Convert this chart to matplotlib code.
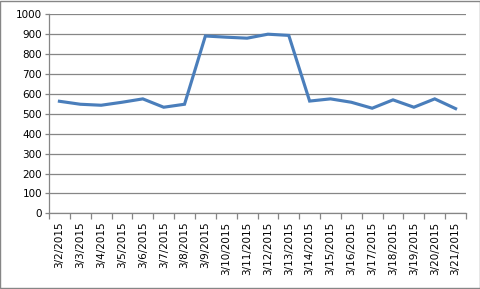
import matplotlib

matplotlib.use("Agg")
import matplotlib.pyplot as plt
from matplotlib.patches import Rectangle

dates = [f"3/{d}/2015" for d in range(2, 22)]
values = [563, 548, 543, 558, 575, 533, 548, 891, 885, 880,
          900, 894, 564, 575, 558, 528, 570, 533, 575, 526]
y_ticks = list(range(0, 1001, 100))

plt.rcParams["font.family"] = ["DejaVu Sans"]

fig = plt.figure(figsize=(4.81, 2.89), dpi=100)
ax = fig.add_axes([49 / 481, 1 - 213.3 / 289, 417 / 481, 199 / 289])

x = list(range(len(values)))
ax.plot(x, values, color="#4A7EBB", linewidth=2.25, solid_joinstyle="miter", zorder=3)

ax.set_xlim(-0.5, len(values) - 0.5)
ax.set_ylim(0, 1000)
ax.set_yticks(y_ticks)
ax.yaxis.grid(True, color="#868686", linewidth=0.9)
ax.set_axisbelow(True)

# tick marks between categories, labels at the centres
ax.set_xticks([i - 0.5 for i in range(len(values) + 1)])
ax.set_xticklabels([])
ax.set_xticks(x, minor=True)
ax.set_xticklabels(dates, minor=True, rotation=90, fontsize=7.5)
ax.tick_params(axis="x", which="major", length=4, color="#868686", width=0.9)
ax.tick_params(axis="x", which="minor", length=0, pad=6)
ax.tick_params(axis="y", length=3, color="#868686", width=0.9, labelsize=7.5, pad=2)

for side in ("top", "right"):
    ax.spines[side].set_visible(False)
for side in ("left", "bottom"):
    ax.spines[side].set_color("#868686")
    ax.spines[side].set_linewidth(0.9)

fig.patches.append(Rectangle((0.001, 0.002), 0.997, 0.995, transform=fig.transFigure,
                             fill=False, edgecolor="#868686", linewidth=1.0))

fig.savefig("out.png", dpi=100)
